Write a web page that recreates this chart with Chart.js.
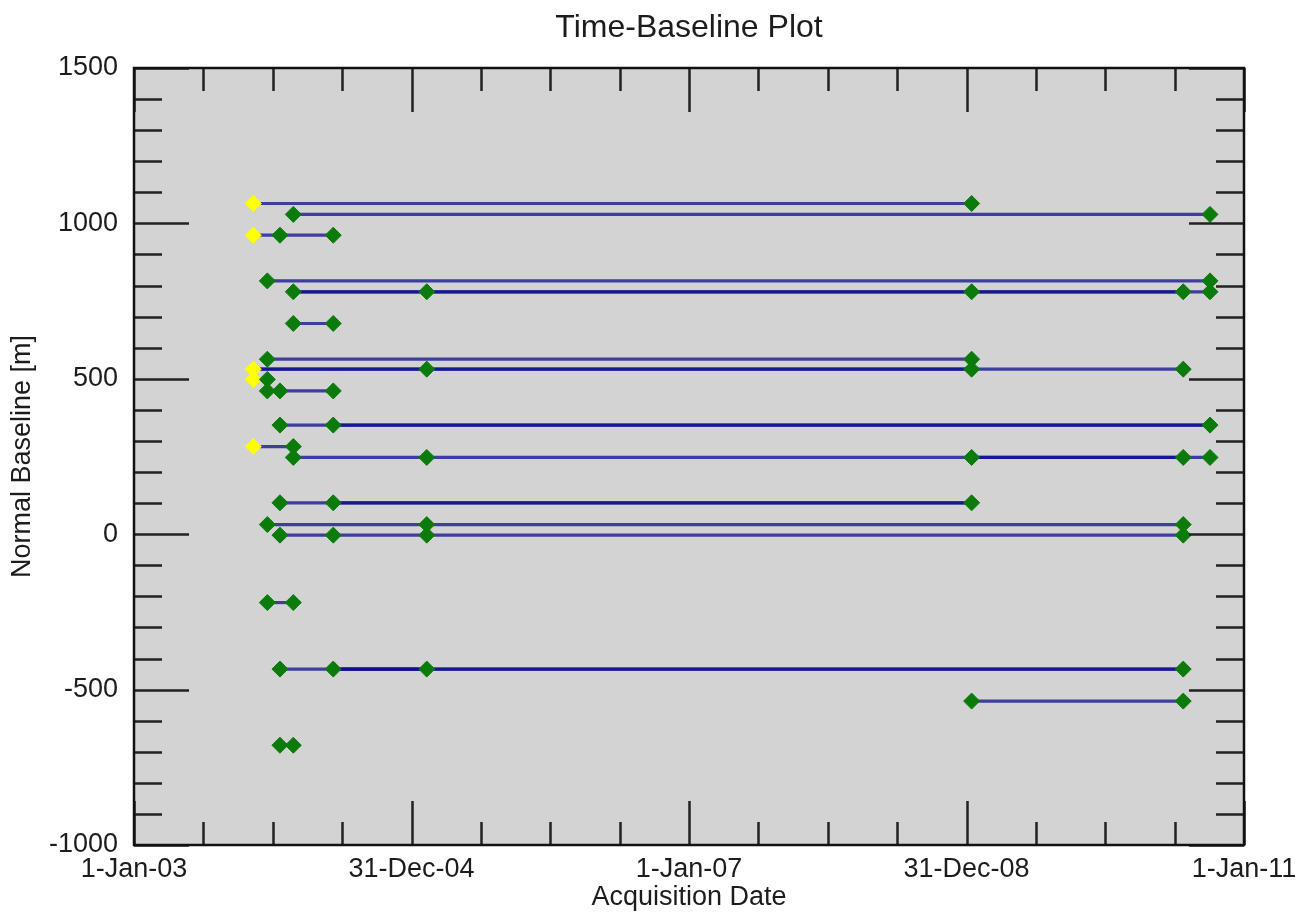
<!DOCTYPE html>
<html>
<head>
<meta charset="utf-8">
<title>Time-Baseline Plot</title>
<script src="https://cdn.jsdelivr.net/npm/chart.js@4.4.1/dist/chart.umd.min.js"></script>
<style>
  html, body { margin: 0; padding: 0; background: #fff; }
  #wrap { width: 1298px; height: 914px; }
</style>
</head>
<body>
<div id="wrap"><canvas id="tb" width="1298" height="914"></canvas></div>
<script>
// axis ticks (x is in decimal years)
const xTickValues = [2003, 2005, 2007, 2009, 2011];
const xTickLabels = ['1-Jan-03', '31-Dec-04', '1-Jan-07', '31-Dec-08', '1-Jan-11'];
const xMinorStep = 0.5;
const yTickValues = [-1000, -500, 0, 500, 1000, 1500];
const yMinorStep = 100;

// reference (yellow) acquisitions
const yellowDates     = [2003.860, 2003.860, 2003.860, 2003.860, 2003.860];
const yellowBaselines = [1064, 962, 531, 498, 282];

// other (green) acquisitions, listed row by row
const greenDates = [
  2009.037,
  2004.148, 2010.755,
  2004.052, 2004.436,
  2003.961, 2010.755,
  2004.148, 2005.110, 2009.037, 2010.562, 2010.755,
  2004.148, 2004.436,
  2003.961, 2009.037,
  2005.110, 2009.037, 2010.562,
  2003.961,
  2003.961, 2004.052, 2004.436,
  2004.052, 2004.436, 2010.755,
  2004.148,
  2004.148, 2005.110, 2009.037, 2010.562, 2010.755,
  2004.052, 2004.436, 2009.037,
  2003.961, 2005.110, 2010.562,
  2004.052, 2004.436, 2005.110, 2010.562,
  2003.961, 2004.148,
  2004.052, 2004.436, 2005.110, 2010.562,
  2009.037, 2010.562,
  2004.052, 2004.148
];
const greenBaselines = [
  1064,
  1029, 1029,
  962, 962,
  815, 815,
  780, 780, 780, 780, 780,
  678, 678,
  563, 563,
  531, 531, 531,
  498,
  461, 461, 461,
  351, 351, 351,
  282,
  247, 247, 247, 247, 247,
  101, 101, 101,
  31, 31, 31,
  -3, -3, -3, -3,
  -220, -220,
  -434, -434, -434, -434,
  -537, -537,
  -679, -679
];

// pair links (horizontal lines)
const segFrom = [2003.860, 2004.148, 2003.860, 2003.961, 2004.148, 2004.148, 2004.148, 2003.961,
                 2003.860, 2003.860, 2004.052, 2004.052, 2004.436, 2003.860, 2004.148, 2009.037,
                 2004.052, 2004.436, 2003.961, 2004.052, 2003.961, 2004.052, 2004.436, 2004.436,
                 2009.037, 2004.052];
const segTo   = [2009.037, 2010.755, 2004.436, 2010.755, 2010.755, 2010.562, 2004.436, 2009.037,
                 2010.562, 2009.037, 2004.436, 2010.755, 2010.755, 2004.148, 2010.562, 2010.755,
                 2009.037, 2009.037, 2010.562, 2010.562, 2004.148, 2010.562, 2010.562, 2005.110,
                 2010.562, 2004.148];
const segBaseline = [1064, 1029, 962, 815, 780, 780, 678, 563,
                     531, 531, 461, 351, 351, 282, 247, 247,
                     101, 101, 31, -3, -220, -434, -434, -434,
                     -537, -679];

const FONT = '"Liberation Sans", Arial, Helvetica, sans-serif';
const INK = '#1c1c1c';

// one dataset per link so that overlapping links darken
const lineSets = segFrom.map((f, i) => ({
  type: 'line',
  data: [{x: f, y: segBaseline[i]}, {x: segTo[i], y: segBaseline[i]}],
  borderColor: 'rgba(10,10,140,0.74)',
  borderWidth: 3.2,
  pointRadius: 0,
  fill: false,
  order: 3
}));

const greenSet = {
  type: 'scatter',
  data: greenDates.map((d, i) => ({x: d, y: greenBaselines[i]})),
  pointStyle: 'rectRot',
  pointRadius: 8,
  backgroundColor: '#0b7c0b',
  borderColor: '#0b7c0b',
  borderWidth: 1,
  order: 1
};
const yellowSet = {
  type: 'scatter',
  data: yellowDates.map((d, i) => ({x: d, y: yellowBaselines[i]})),
  pointStyle: 'rectRot',
  pointRadius: 8,
  backgroundColor: '#ffff00',
  borderColor: '#ffff00',
  borderWidth: 1,
  order: 2
};

// grey plot box, inward ticks on all four sides, black frame
const frameTicks = {
  id: 'frameTicks',
  beforeDatasetsDraw(chart){
    const {ctx, chartArea:a} = chart;
    ctx.save();
    ctx.fillStyle = '#d3d3d3';
    ctx.fillRect(a.left, a.top, a.right - a.left, a.bottom - a.top);
    ctx.restore();
  },
  afterDatasetsDraw(chart){
    const {ctx, chartArea:a, scales:{x, y}} = chart;
    ctx.save();
    ctx.strokeStyle = '#222';
    ctx.lineWidth = 2.5;
    ctx.beginPath();
    for(let v = y.min; v <= y.max + 1e-6; v += yMinorStep){
      const py = Math.round(y.getPixelForValue(v)) + 0.5;
      const len = yTickValues.includes(Math.round(v)) ? 55 : 28;
      ctx.moveTo(a.left, py);  ctx.lineTo(a.left + len, py);
      ctx.moveTo(a.right, py); ctx.lineTo(a.right - len, py);
    }
    for(let v = x.min; v <= x.max + 1e-6; v += xMinorStep){
      const px = Math.round(x.getPixelForValue(v)) + 0.5;
      const len = xTickValues.includes(v) ? 44 : 23;
      ctx.moveTo(px, a.bottom); ctx.lineTo(px, a.bottom - len);
      ctx.moveTo(px, a.top);    ctx.lineTo(px, a.top + len);
    }
    ctx.stroke();
    ctx.strokeStyle = '#111';
    ctx.lineWidth = 2.5;
    ctx.strokeRect(a.left, a.top, a.right - a.left, a.bottom - a.top);
    ctx.restore();
  }
};

new Chart(document.getElementById('tb'), {
  type: 'scatter',
  data: { datasets: [greenSet, yellowSet, ...lineSets] },
  plugins: [frameTicks],
  options: {
    responsive: false,
    animation: false,
    events: [],
    layout: { autoPadding: false, padding: { left: 0, right: 54, top: 0, bottom: 0 } },
    plugins: {
      legend: { display: false },
      tooltip: { enabled: false },
      title: {
        display: true,
        fullSize: false,
        text: 'Time-Baseline Plot',
        color: INK,
        font: { family: FONT, size: 32, weight: 'normal' },
        padding: { top: 9, bottom: 20.6 }
      }
    },
    scales: {
      x: {
        type: 'linear',
        min: 2003, max: 2011,
        grid: { display: false },
        border: { display: false },
        afterBuildTicks: s => { s.ticks = xTickValues.map(v => ({value: v})); },
        afterFit: s => { s.height = 69; },
        ticks: {
          autoSkip: false, maxRotation: 0, padding: 0,
          color: INK,
          font: { family: FONT, size: 27 },
          callback: v => xTickLabels[xTickValues.indexOf(v)]
        },
        title: {
          display: true, text: 'Acquisition Date', color: INK,
          font: { family: FONT, size: 27 },
          padding: { top: 0, bottom: 0 }
        }
      },
      y: {
        type: 'linear',
        min: -1000, max: 1500,
        grid: { display: false },
        border: { display: false },
        afterBuildTicks: s => { s.ticks = yTickValues.map(v => ({value: v})); },
        afterFit: s => { s.width = 134; },
        ticks: {
          padding: 8, color: INK,
          font: { family: FONT, size: 27 },
          callback: v => String(v)
        },
        title: {
          display: true, text: 'Normal Baseline [m]', color: INK,
          font: { family: FONT, size: 27 },
          padding: { top: 6, bottom: 0 }
        }
      }
    }
  }
});
</script>
</body>
</html>
